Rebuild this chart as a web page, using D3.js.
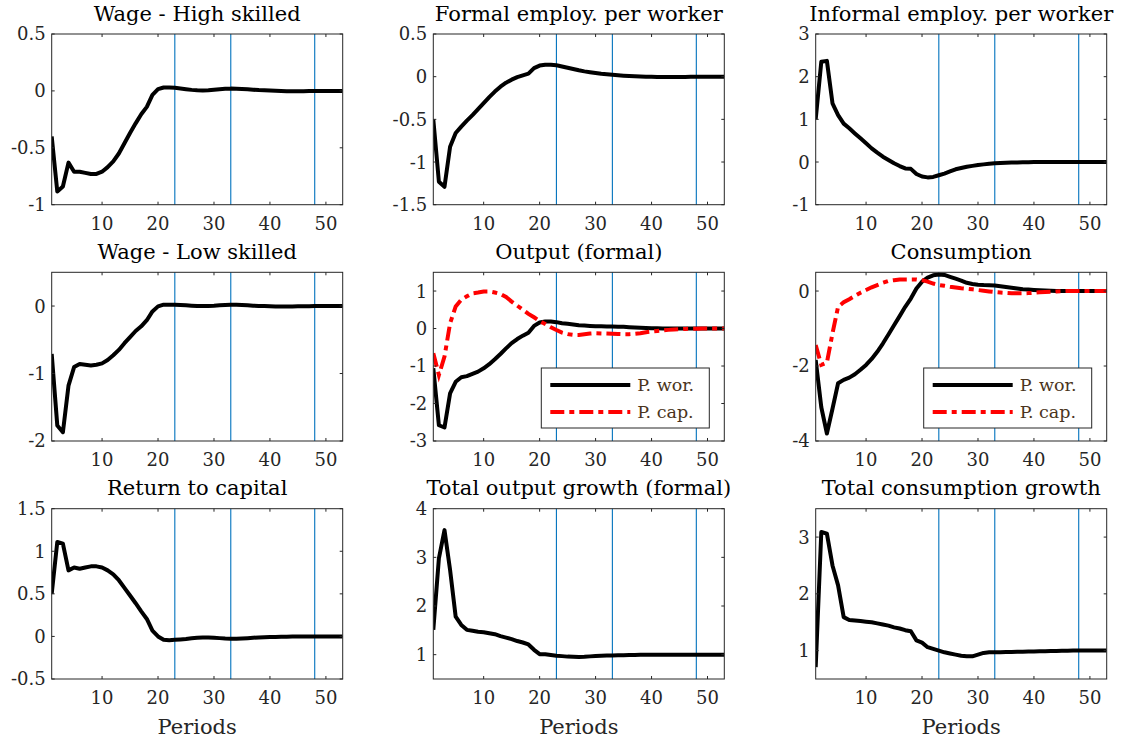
<!DOCTYPE html>
<html>
<head>
<meta charset="utf-8">
<script src="https://cdn.jsdelivr.net/npm/d3@7"></script>
<style>
  body { margin: 0; background: #fff; }
  text { font-family: "DejaVu Serif", serif; }
</style>
</head>
<body>
<div id="chart"></div>
<script>
(function(){

    var width = 1126;
    var height = 743;

    // periods 1..53
    var periods = d3.range(1, 54);
    var vlines = [23, 33, 48];

    var titles = [
        "Wage - High skilled", "Formal employ. per worker", "Informal employ. per worker",
        "Wage - Low skilled", "Output (formal)", "Consumption",
        "Return to capital", "Total output growth (formal)", "Total consumption growth"
    ];

    var yDomains = [
        [-1, 0.5], [-1.5, 0.5], [-1, 3],
        [-2, 0.5], [-3, 1.5], [-4, 0.5],
        [-0.5, 1.5], [0.5, 4], [0.5, 3.5]
    ];

    var yTicks = [
        [-1, -0.5, 0, 0.5], [-1.5, -1, -0.5, 0, 0.5], [-1, 0, 1, 2, 3],
        [-2, -1, 0], [-3, -2, -1, 0, 1], [-4, -2, 0],
        [-0.5, 0, 0.5, 1, 1.5], [1, 2, 3, 4], [1, 2, 3]
    ];

    var xTicks = [10, 20, 30, 40, 50];

    var wageHigh = [-0.40,-0.885,-0.84,-0.63,-0.71,-0.71,-0.72,-0.73,-0.73,-0.71,
        -0.67,-0.62,-0.55,-0.46,-0.37,-0.285,-0.205,-0.14,-0.035,0.015,
        0.03,0.03,0.027,0.021,0.015,0.009,0.005,0.003,0.005,0.01,
        0.015,0.018,0.02,0.019,0.017,0.015,0.011,0.007,0.005,0.003,
        0.001,0,-0.002,-0.003,-0.003,-0.002,-0.001,0,0,0,
        0,0,0];

    var formalEmp = [-0.5,-1.23,-1.29,-0.82,-0.66,-0.585,-0.515,-0.45,-0.38,-0.31,
        -0.24,-0.175,-0.117,-0.07,-0.035,-0.005,0.016,0.035,0.1,0.13,
        0.14,0.14,0.133,0.12,0.105,0.09,0.075,0.062,0.052,0.043,
        0.035,0.029,0.023,0.017,0.012,0.008,0.005,0.002,0,-0.002,
        -0.003,-0.004,-0.004,-0.004,-0.003,-0.003,-0.002,-0.001,0,0,
        0,0,0];

    var informalEmp = [1.0,2.35,2.37,1.375,1.1,0.9,0.79,0.67,0.555,0.44,
        0.32,0.22,0.125,0.047,-0.03,-0.094,-0.15,-0.16,-0.28,-0.34,
        -0.36,-0.35,-0.31,-0.27,-0.22,-0.17,-0.14,-0.11,-0.09,-0.07,
        -0.055,-0.04,-0.03,-0.023,-0.018,-0.014,-0.01,-0.007,-0.004,-0.002,
        -0.001,0,0,0,0,0,0,0,0,0,
        0,0,0];

    var wageLow = [-0.71,-1.77,-1.87,-1.18,-0.905,-0.86,-0.87,-0.88,-0.87,-0.85,
        -0.80,-0.73,-0.65,-0.55,-0.46,-0.37,-0.30,-0.21,-0.08,-0.005,
        0.02,0.02,0.018,0.014,0.01,0.006,0.002,0,0.002,0.005,
        0.01,0.015,0.02,0.018,0.015,0.01,0.006,0.002,0,-0.003,
        -0.005,-0.005,-0.005,-0.005,-0.004,-0.003,-0.002,-0.001,0,0,
        0,0,0];

    var outputWor = [-1.06,-2.58,-2.64,-1.73,-1.42,-1.30,-1.27,-1.21,-1.15,-1.06,
        -0.95,-0.82,-0.68,-0.53,-0.39,-0.28,-0.19,-0.11,0.07,0.16,
        0.19,0.19,0.17,0.14,0.125,0.11,0.09,0.08,0.07,0.06,
        0.058,0.056,0.055,0.05,0.045,0.036,0.03,0.024,0.017,0.01,
        0.006,0.003,0.001,0,0,0,0,0,0,0,
        0,0,0];

    var outputCap = [-0.66,-1.24,-0.75,0.14,0.59,0.77,0.86,0.94,0.96,0.99,
        0.99,0.96,0.92,0.84,0.72,0.61,0.5,0.39,0.30,0.2,
        0.12,0.036,-0.04,-0.11,-0.15,-0.17,-0.17,-0.15,-0.135,-0.125,
        -0.13,-0.135,-0.14,-0.145,-0.15,-0.15,-0.14,-0.125,-0.1,-0.08,
        -0.065,-0.05,-0.036,-0.025,-0.017,-0.01,-0.006,-0.003,0,0,
        0,0,0];

    var consWor = [-1.84,-3.1,-3.8,-3.14,-2.46,-2.37,-2.31,-2.22,-2.1,-1.97,
        -1.81,-1.62,-1.40,-1.16,-0.91,-0.67,-0.42,-0.2,0.07,0.25,
        0.36,0.42,0.44,0.43,0.38,0.33,0.28,0.22,0.19,0.17,
        0.16,0.155,0.15,0.13,0.11,0.09,0.07,0.05,0.04,0.03,
        0.02,0.012,0.006,0.002,0,0,0,0,0,0,
        0,0,0];

    var consCap = [-1.44,-1.97,-1.91,-1.13,-0.42,-0.3,-0.22,-0.13,-0.045,0.027,
        0.1,0.16,0.22,0.27,0.29,0.31,0.31,0.31,0.31,0.29,
        0.25,0.2,0.16,0.14,0.115,0.095,0.075,0.06,0.045,0.027,
        0.01,-0.01,-0.027,-0.04,-0.05,-0.06,-0.06,-0.06,-0.055,-0.045,
        -0.035,-0.025,-0.018,-0.01,-0.005,0,0,0,0,0,
        0,0,0];

    var returnCap = [0.5,1.11,1.09,0.776,0.81,0.795,0.81,0.823,0.823,0.81,
        0.776,0.73,0.66,0.57,0.48,0.39,0.295,0.205,0.067,0.0,
        -0.04,-0.045,-0.04,-0.035,-0.03,-0.022,-0.016,-0.012,-0.012,-0.016,
        -0.02,-0.025,-0.028,-0.026,-0.023,-0.02,-0.016,-0.012,-0.01,-0.008,
        -0.006,-0.004,-0.003,-0.002,-0.001,0,0,0,0,0,
        0,0,0];

    var outputGrowth = [1.51,2.98,3.56,2.74,1.78,1.61,1.51,1.49,1.47,1.46,
        1.44,1.42,1.38,1.35,1.32,1.28,1.25,1.21,1.1,1.01,
        1.007,0.993,0.98,0.97,0.96,0.955,0.95,0.955,0.965,0.975,
        0.98,0.982,0.985,0.988,0.99,0.993,0.995,0.997,0.998,0.999,
        1,1,1,1,1,1,1,1,1,1,
        1,1,1];

    var consGrowth = [0.71,3.09,3.06,2.5,2.15,1.59,1.54,1.53,1.52,1.51,
        1.50,1.48,1.46,1.44,1.41,1.39,1.36,1.34,1.18,1.14,
        1.06,1.03,1.0,0.97,0.95,0.93,0.91,0.90,0.90,0.93,
        0.96,0.97,0.97,0.972,0.974,0.976,0.978,0.98,0.983,0.986,
        0.988,0.99,0.992,0.994,0.996,0.998,1,1,1,1,
        1,1,1];

    var legendLabels = ["P. wor.", "P. cap."];

    // black = workers' series, red = capitalists' series (only panels 5 & 6)
    var blackSeries = [wageHigh, formalEmp, informalEmp, wageLow, outputWor, consWor,
                       returnCap, outputGrowth, consGrowth];
    var redSeries = [null, null, null, null, outputCap, consCap, null, null, null];

    var colLeft = [51.7, 433.3, 815.7];
    var colWidth = 291;
    var rowTop = [34, 272.3, 508.7];
    var rowHeight = [170.7, 168.7, 170.3];

    var axisColor = "#262626";
    var blue = "#0072BD";

    var svg = d3.select("#chart")
        .append("svg")
            .attr("width", width)
            .attr("height", height)
            .style("background", "#fff");

    var fmt = function(v) { return String(v); };

    titles.forEach(function(title, i){
        var col = i % 3;
        var row = Math.floor(i / 3);
        var w = colWidth;
        var h = rowHeight[row];

        var g = svg.append("g")
            .attr("transform", "translate(" + colLeft[col] + "," + rowTop[row] + ")");

        var x = d3.scaleLinear().domain([1, 53]).range([0, w]);
        var y = d3.scaleLinear().domain(yDomains[i]).range([h, 0]);

        var clipId = "clip" + i;
        g.append("clipPath")
            .attr("id", clipId)
          .append("rect")
            .attr("width", w)
            .attr("height", h);

        // vertical markers
        g.selectAll("line.vline")
            .data(vlines)
            .enter()
            .append("line")
            .attr("class", "vline")
            .attr("x1", function(d){ return x(d); })
            .attr("x2", function(d){ return x(d); })
            .attr("y1", 0)
            .attr("y2", h)
            .style("stroke", blue)
            .style("stroke-width", 1.1);

        var line = d3.line()
            .x(function(d, j){ return x(periods[j]); })
            .y(function(d){ return y(d); });

        var plot = g.append("g").attr("clip-path", "url(#" + clipId + ")");

        plot.append("path")
            .datum(blackSeries[i])
            .attr("d", line)
            .style("fill", "none")
            .style("stroke", "#000")
            .style("stroke-width", 4)
            .style("stroke-linejoin", "round");

        if (redSeries[i]) {
            plot.append("path")
                .datum(redSeries[i])
                .attr("d", line)
                .style("fill", "none")
                .style("stroke", "#ff0000")
                .style("stroke-width", 4)
                .style("stroke-dasharray", "14,5,5,5");
        }

        // box
        g.append("rect")
            .attr("width", w)
            .attr("height", h)
            .style("fill", "none")
            .style("stroke", axisColor)
            .style("stroke-width", 1);

        // ticks, inside, on all four sides
        var tl = 3;
        xTicks.forEach(function(t){
            g.append("line")
                .attr("x1", x(t)).attr("x2", x(t))
                .attr("y1", h).attr("y2", h - tl)
                .style("stroke", axisColor);
            g.append("line")
                .attr("x1", x(t)).attr("x2", x(t))
                .attr("y1", 0).attr("y2", tl)
                .style("stroke", axisColor);
            g.append("text")
                .attr("x", x(t))
                .attr("y", h + 25.5)
                .attr("text-anchor", "middle")
                .style("font-size", "18px")
                .style("fill", axisColor)
                .text(t);
        });

        yTicks[i].forEach(function(t){
            g.append("line")
                .attr("x1", 0).attr("x2", tl)
                .attr("y1", y(t)).attr("y2", y(t))
                .style("stroke", axisColor);
            g.append("line")
                .attr("x1", w).attr("x2", w - tl)
                .attr("y1", y(t)).attr("y2", y(t))
                .style("stroke", axisColor);
            g.append("text")
                .attr("x", -6)
                .attr("y", y(t))
                .attr("dy", "0.36em")
                .attr("text-anchor", "end")
                .style("font-size", "18px")
                .style("fill", axisColor)
                .text(fmt(t));
        });

        g.append("text")
            .attr("x", w / 2)
            .attr("y", -13.5)
            .attr("text-anchor", "middle")
            .style("font-size", "21px")
            .style("fill", "#000")
            .text(title);

        if (row === 2) {
            g.append("text")
                .attr("x", w / 2)
                .attr("y", h + 55)
                .attr("text-anchor", "middle")
                .style("font-size", "21px")
                .style("fill", axisColor)
                .text("Periods");
        }

        if (redSeries[i]) {
            var lw = 168, lh = 60;
            var lg = g.append("g")
                .attr("transform", "translate(" + (w - 15 - lw) + "," + (h - 13 - lh) + ")");
            lg.append("rect")
                .attr("width", lw)
                .attr("height", lh)
                .style("fill", "#fff")
                .style("stroke", axisColor)
                .style("stroke-width", 1);
            legendLabels.forEach(function(lab, k){
                var ly = 17 + k * 27;
                lg.append("line")
                    .attr("x1", 9).attr("x2", 89)
                    .attr("y1", ly).attr("y2", ly)
                    .style("stroke", k === 0 ? "#000" : "#ff0000")
                    .style("stroke-width", 4)
                    .style("stroke-dasharray", k === 0 ? null : "14,5,5,5");
                lg.append("text")
                    .attr("x", 96)
                    .attr("y", ly)
                    .attr("dy", "0.36em")
                    .style("font-size", "17.5px")
                    .style("fill", "#4a3420")
                    .text(lab);
            });
        }
    });
})();
</script>
</body>
</html>
